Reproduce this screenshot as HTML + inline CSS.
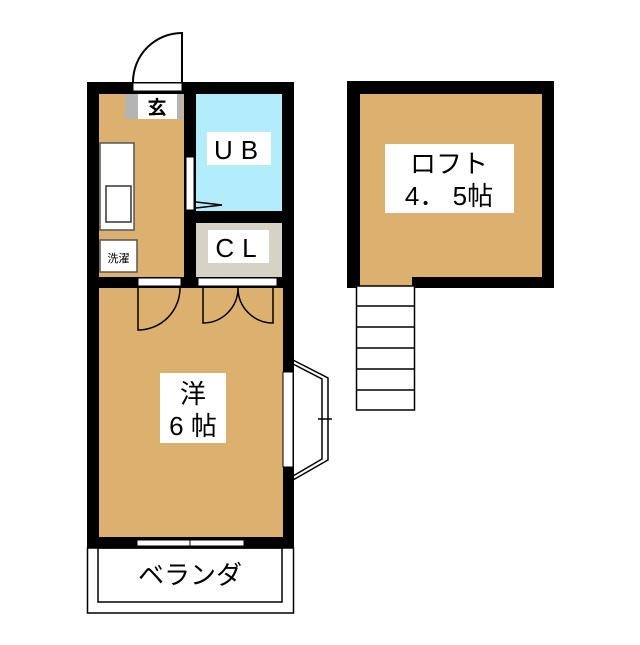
<!DOCTYPE html>
<html><head><meta charset="utf-8"><style>
body{margin:0;background:#fff}
svg text{font-family:"Liberation Sans","Noto Sans CJK JP",sans-serif}
</style></head><body>
<svg width="640" height="640" viewBox="0 0 640 640" xmlns="http://www.w3.org/2000/svg">
<rect x="87" y="82" width="207" height="467" fill="#000"/>
<rect x="99" y="94" width="85" height="183" fill="#dcb06e"/>
<rect x="125" y="94" width="58" height="25" fill="#b4b4b4"/>
<rect x="138" y="94" width="39" height="25" fill="#fff"/>
<text x="157" y="114" font-size="19" font-weight="bold" text-anchor="middle">玄</text>
<rect x="133" y="83" width="49" height="8" fill="#fff" stroke="#000" stroke-width="1"/>
<path d="M133 82 A49 49 0 0 1 182 33 L182 82" fill="none" stroke="#000" stroke-width="2"/>
<rect x="100" y="143" width="34" height="87" fill="#fff" stroke="#555" stroke-width="1.5"/>
<rect x="106" y="186" width="25" height="36" fill="#fff" stroke="#333" stroke-width="1.5"/>
<rect x="100" y="240" width="37" height="32" fill="#fff" stroke="#555" stroke-width="1.5"/>
<text x="118.5" y="262" font-size="11" text-anchor="middle">洗濯</text>
<rect x="196" y="94" width="86" height="117" fill="#b3ecfb"/>
<rect x="207" y="132" width="64" height="33" fill="#fff"/>
<text x="240" y="159" font-size="26" text-anchor="middle" letter-spacing="8">UB</text>
<rect x="186" y="157" width="8" height="53" fill="#fff" stroke="#000" stroke-width="1"/>
<path d="M196 202 L222 205 L196 208" fill="none" stroke="#000" stroke-width="1.5"/>
<rect x="196" y="223" width="86" height="54" fill="#d6d2c6"/>
<rect x="208" y="230" width="61" height="33" fill="#fff"/>
<text x="240" y="257" font-size="26" text-anchor="middle" letter-spacing="8">CL</text>
<rect x="138" y="278" width="43" height="8" fill="#fff" stroke="#000" stroke-width="1"/>
<rect x="198" y="278" width="79" height="8" fill="#fff" stroke="#000" stroke-width="1"/>
<rect x="99" y="288" width="184" height="249" fill="#dcb06e"/>
<path d="M138 288 L138 330 A42 42 0 0 0 180 288" fill="none" stroke="#000" stroke-width="1.5"/>
<path d="M203 288 L203 323 A35 35 0 0 0 238 288 A35 35 0 0 0 273 323 L273 288" fill="none" stroke="#000" stroke-width="1.5"/>
<rect x="160" y="373" width="66" height="70" fill="#fff"/>
<text x="193" y="403" font-size="26" text-anchor="middle">洋</text>
<text x="193" y="435" font-size="26" text-anchor="middle">6 帖</text>
<rect x="283" y="372" width="10" height="95" fill="#fff" stroke="#000" stroke-width="1"/>
<path d="M293 360 L328 378 L328 460 L293 480 M293 364 L322 379 L322 459 L293 476 M318 419 L332 419" fill="none" stroke="#000" stroke-width="1.5"/>
<rect x="137" y="540" width="107" height="6" fill="#fff" stroke="#000" stroke-width="1"/>
<line x1="190" y1="538" x2="190" y2="548" stroke="#000"/>
<rect x="87.5" y="548" width="206" height="65" fill="#fff" stroke="#000" stroke-width="1.5"/>
<rect x="98" y="548" width="184" height="54" fill="none" stroke="#000" stroke-width="1.5"/>
<text x="190" y="584" font-size="26" text-anchor="middle">ベランダ</text>
<rect x="347" y="81" width="207" height="207" fill="#000"/>
<rect x="360" y="94" width="182" height="183" fill="#dcb06e"/>
<rect x="360" y="270" width="52" height="18" fill="#dcb06e"/>
<rect x="385" y="144" width="129" height="69" fill="#fff"/>
<text x="449" y="173" font-size="26" text-anchor="middle">ロフト</text>
<text x="449" y="205" font-size="26" text-anchor="middle">4． 5帖</text>
<rect x="356.5" y="286" width="58" height="124" fill="#fff" stroke="#000" stroke-width="1.5"/>
<g stroke="#000" stroke-width="1.5">
<line x1="356" y1="306" x2="415" y2="306"/>
<line x1="356" y1="327" x2="415" y2="327"/>
<line x1="356" y1="348" x2="415" y2="348"/>
<line x1="356" y1="369" x2="415" y2="369"/>
<line x1="356" y1="390" x2="415" y2="390"/>
</g>
</svg>
</body></html>
